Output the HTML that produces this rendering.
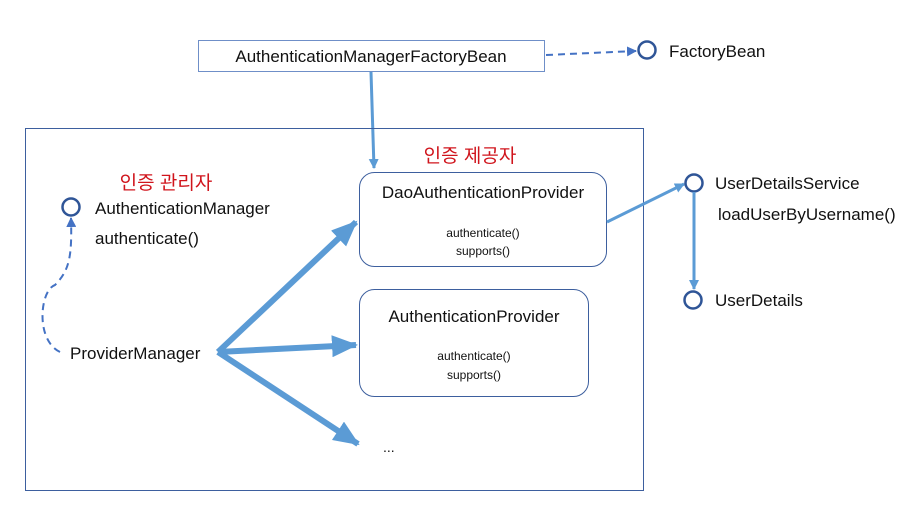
<!DOCTYPE html>
<html><head><meta charset="utf-8"><style>
html,body{margin:0;padding:0;background:#fff}
svg{display:block}
text{font-family:"Liberation Sans","Noto Sans CJK KR",sans-serif;fill:#111}
.r{fill:#d0141c}
</style></head><body>
<svg width="924" height="517" viewBox="0 0 924 517">
<defs>
<marker id="b" markerWidth="10" markerHeight="10" refX="9" refY="5" orient="auto" markerUnits="userSpaceOnUse"><path d="M0,0 L10,5 L0,10 Z" fill="#5b9bd5"/></marker>
<marker id="c" markerWidth="26" markerHeight="22" refX="24" refY="11" orient="auto" markerUnits="userSpaceOnUse"><path d="M0,0 L26,11 L0,22 Z" fill="#5b9bd5"/></marker>
<marker id="d" markerWidth="10" markerHeight="10" refX="9" refY="5" orient="auto" markerUnits="userSpaceOnUse"><path d="M0,0 L10,5 L0,10 Z" fill="#4472c4"/></marker>
</defs>
<rect x="198.5" y="40.5" width="346" height="31" fill="#fff" stroke="#6f8fc8" stroke-width="1"/>
<text x="371" y="62" font-size="17" text-anchor="middle">AuthenticationManagerFactoryBean</text>
<line x1="546" y1="55" x2="636" y2="51" stroke="#4472c4" stroke-width="2" stroke-dasharray="7,5" marker-end="url(#d)"/>
<circle cx="647" cy="50" r="8.5" fill="#fff" stroke="#2f5597" stroke-width="2.5"/>
<text x="669" y="57" font-size="17">FactoryBean</text>
<line x1="371" y1="72" x2="374" y2="168" stroke="#5b9bd5" stroke-width="3" marker-end="url(#b)"/>
<rect x="25.5" y="128.5" width="618" height="362" fill="none" stroke="#3d5f9e" stroke-width="1"/>
<text x="470" y="162" font-size="19" class="r" text-anchor="middle">인증 제공자</text>
<text x="166" y="189" font-size="19" class="r" text-anchor="middle">인증 관리자</text>
<rect x="359.5" y="172.5" width="247" height="94" rx="15" fill="#fff" stroke="#3d5f9e" stroke-width="1"/>
<text x="483" y="198" font-size="17" text-anchor="middle">DaoAuthenticationProvider</text>
<text x="483" y="237" font-size="12" text-anchor="middle">authenticate()</text>
<text x="483" y="255" font-size="12" text-anchor="middle">supports()</text>
<rect x="359.5" y="289.5" width="229" height="107" rx="15" fill="#fff" stroke="#3d5f9e" stroke-width="1"/>
<text x="474" y="322" font-size="17" text-anchor="middle">AuthenticationProvider</text>
<text x="474" y="360" font-size="12" text-anchor="middle">authenticate()</text>
<text x="474" y="379" font-size="12" text-anchor="middle">supports()</text>
<text x="383" y="452" font-size="14">...</text>
<circle cx="71" cy="207" r="8.5" fill="#fff" stroke="#2f5597" stroke-width="2.5"/>
<text x="95" y="214" font-size="17">AuthenticationManager</text>
<text x="95" y="244" font-size="17">authenticate()</text>
<path d="M60,352 C35,340 40,290 55,285 C70,270 72,255 71,218" fill="none" stroke="#4472c4" stroke-width="2" stroke-dasharray="7,5" marker-end="url(#d)"/>
<text x="70" y="359" font-size="17">ProviderManager</text>
<g stroke="#5b9bd5" stroke-width="6" fill="none">
<line x1="218" y1="352" x2="356" y2="222" marker-end="url(#c)"/>
<line x1="218" y1="352" x2="356" y2="345" marker-end="url(#c)"/>
<line x1="218" y1="352" x2="358" y2="444" marker-end="url(#c)"/>
</g>
<line x1="607" y1="222" x2="684" y2="184" stroke="#5b9bd5" stroke-width="3" marker-end="url(#b)"/>
<circle cx="694" cy="183" r="8.5" fill="#fff" stroke="#2f5597" stroke-width="2.5"/>
<text x="715" y="189" font-size="17">UserDetailsService</text>
<text x="718" y="220" font-size="17">loadUserByUsername()</text>
<line x1="694" y1="192" x2="694" y2="289" stroke="#5b9bd5" stroke-width="3" marker-end="url(#b)"/>
<circle cx="693" cy="300" r="8.5" fill="#fff" stroke="#2f5597" stroke-width="2.5"/>
<text x="715" y="306" font-size="17">UserDetails</text>
</svg>
</body></html>
